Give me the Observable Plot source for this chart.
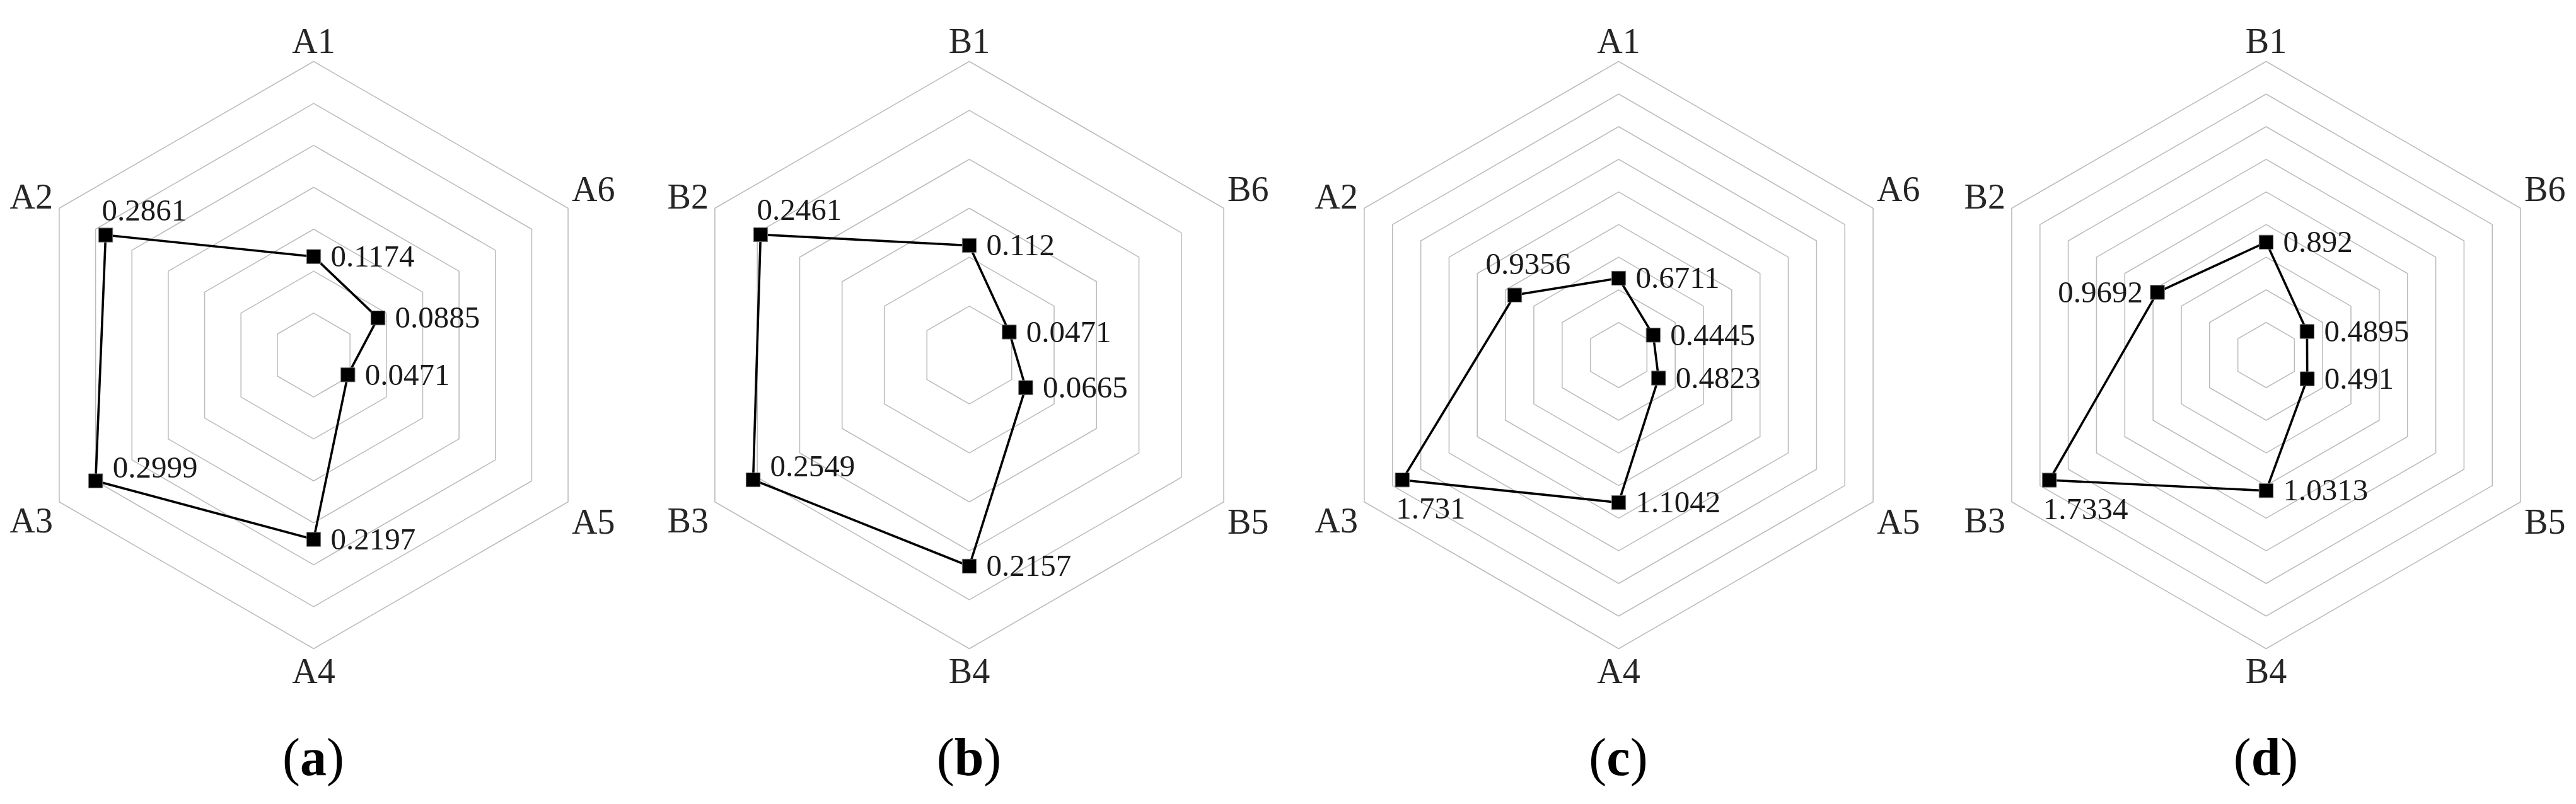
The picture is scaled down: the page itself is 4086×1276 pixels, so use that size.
<!DOCTYPE html>
<html><head><meta charset="utf-8">
<script src="https://cdn.jsdelivr.net/npm/d3@7"></script>
<script src="https://cdn.jsdelivr.net/npm/@observablehq/plot@0.6"></script>
<style>
html,body{margin:0;padding:0;background:#fff;}
#wrap{position:relative;width:4086px;height:1276px;overflow:hidden;background:#fff;}
.panel{position:absolute;top:0;width:1000px;}
.panel svg{display:block;}
.cap{position:absolute;top:1160px;left:0;width:1000px;text-align:center;font-family:"Liberation Serif",serif;font-size:84px;line-height:1;color:#000;}
</style></head><body><div id="wrap"></div>
<script>
// ---- data ----
const categoriesA = ["A1","A2","A3","A4","A5","A6"];
const categoriesB = ["B1","B2","B3","B4","B5","B6"];
const valuesA = [0.1174, 0.2861, 0.2999, 0.2197, 0.0471, 0.0885];
const valuesB = [0.112, 0.2461, 0.2549, 0.2157, 0.0665, 0.0471];
const valuesC = [0.6711, 0.9356, 1.731, 1.1042, 0.4823, 0.4445];
const valuesD = [0.892, 0.9692, 1.7334, 1.0313, 0.491, 0.4895];
const axisMin  = [0, 0, 0.2, 0.2];
const axisMax  = [0.35, 0.3, 2.0, 2.0];
const axisStep = [0.05, 0.05, 0.2, 0.2];
const captions = ["a","b","c","d"];
// where each value label sits relative to its marker
const labelPlaceA = ["r","t","tr","r","r","r"];
const labelPlaceB = ["r","t","tr","r","r","r"];
const labelPlaceC = ["r","tl","b","r","r","r"];
const labelPlaceD = ["r","l","b","r","r","r"];

const panels = [
  {cats: categoriesA, vals: valuesA, place: labelPlaceA},
  {cats: categoriesB, vals: valuesB, place: labelPlaceB},
  {cats: categoriesA, vals: valuesC, place: labelPlaceC},
  {cats: categoriesB, vals: valuesD, place: labelPlaceD}
].map((p, k) => ({...p, min: axisMin[k], max: axisMax[k], step: axisStep[k], caption: captions[k]}));

// ---- layout ----
const W = 1000, H = 1120, CX = 500, CY = 563, R = 466;
const panelCenters = [497, 1537, 2567, 3594];

const catStyle = [
  {textAnchor: "middle", lineAnchor: "bottom", dx: 0,   dy: -14},
  {textAnchor: "end",    lineAnchor: "bottom", dx: -10, dy: 0},
  {textAnchor: "end",    lineAnchor: "top",    dx: -10, dy: 9},
  {textAnchor: "middle", lineAnchor: "top",    dx: 0,   dy: 15},
  {textAnchor: "start",  lineAnchor: "top",    dx: 6,   dy: 11},
  {textAnchor: "start",  lineAnchor: "bottom", dx: 6,   dy: -12}
];
const valStyle = {
  r:  {textAnchor: "start", lineAnchor: "middle", dx: 27,  dy: 0},
  t:  {textAnchor: "start", lineAnchor: "bottom", dx: -6,  dy: -23},
  tl: {textAnchor: "start", lineAnchor: "bottom", dx: -46, dy: -33},
  tr: {textAnchor: "start", lineAnchor: "middle", dx: 27,  dy: -21},
  b:  {textAnchor: "start", lineAnchor: "top",    dx: -10, dy: 27},
  l:  {textAnchor: "end",   lineAnchor: "middle", dx: -23, dy: 0}
};

const dirX = i => -Math.sin(i * Math.PI / 3);
const dirY = i =>  Math.cos(i * Math.PI / 3);

const wrap = document.getElementById("wrap");

panels.forEach((p, k) => {
  const n = Math.round((p.max - p.min) / p.step);
  const rings = [];
  for (let r = 1; r <= n; r++) {
    for (let i = 0; i < 6; i++) rings.push({ring: r, x: dirX(i) * r / n, y: dirY(i) * r / n});
  }
  const pts = p.vals.map((v, i) => {
    const f = (v - p.min) / (p.max - p.min);
    return {i, v, cat: p.cats[i], place: p.place[i], x: dirX(i) * f, y: dirY(i) * f};
  });
  const verts = p.cats.map((c, i) => ({i, cat: c, x: dirX(i), y: dirY(i)}));

  const marks = [
    Plot.line(rings, {x: "x", y: "y", z: "ring", curve: "linear-closed", stroke: "#bdbdbd", strokeWidth: 1.6}),
    Plot.line(pts, {x: "x", y: "y", curve: "linear-closed", stroke: "#000", strokeWidth: 3.6}),
    Plot.dot(pts, {x: "x", y: "y", symbol: "square", r: 12.6, fill: "#000", stroke: "#777", strokeWidth: 1})
  ];
  verts.forEach((d, i) => {
    marks.push(Plot.text([d], {x: "x", y: "y", text: "cat", ...catStyle[i],
      fontFamily: "Liberation Serif", fontSize: 56, fill: "#262626", ariaLabel: "category-label"}));
  });
  Object.keys(valStyle).forEach(key => {
    const sub = pts.filter(d => d.place === key);
    if (!sub.length) return;
    marks.push(Plot.text(sub, {x: "x", y: "y", text: d => String(d.v), ...valStyle[key],
      fontFamily: "Liberation Serif", fontSize: 49, fill: "#1a1a1a", ariaLabel: "value-label"}));
  });

  const svg = Plot.plot({
    width: W, height: H,
    marginTop: 0, marginRight: 0, marginBottom: 0, marginLeft: 0,
    x: {domain: [-1, 1], range: [CX - R, CX + R], axis: null},
    y: {domain: [-1, 1], range: [CY + R, CY - R], axis: null},
    style: {background: "transparent", overflow: "visible"},
    marks
  });
  // condense category labels horizontally (narrow half-width glyphs as in the original)
  svg.querySelectorAll('g[aria-label="category-label"] text').forEach(t => {
    const tr = t.getAttribute("transform");
    if (tr) t.setAttribute("transform", tr + " scale(0.74,1)");
  });
  svg.querySelectorAll('g[aria-label="value-label"] text').forEach(t => {
    t.style.letterSpacing = "4px";
  });

  const div = document.createElement("div");
  div.className = "panel";
  div.style.left = (panelCenters[k] - CX) + "px";
  div.appendChild(svg);
  const cap = document.createElement("div");
  cap.className = "cap";
  cap.innerHTML = "(<b>" + p.caption + "</b>)";
  div.appendChild(cap);
  wrap.appendChild(div);
});
</script>
</body></html>
